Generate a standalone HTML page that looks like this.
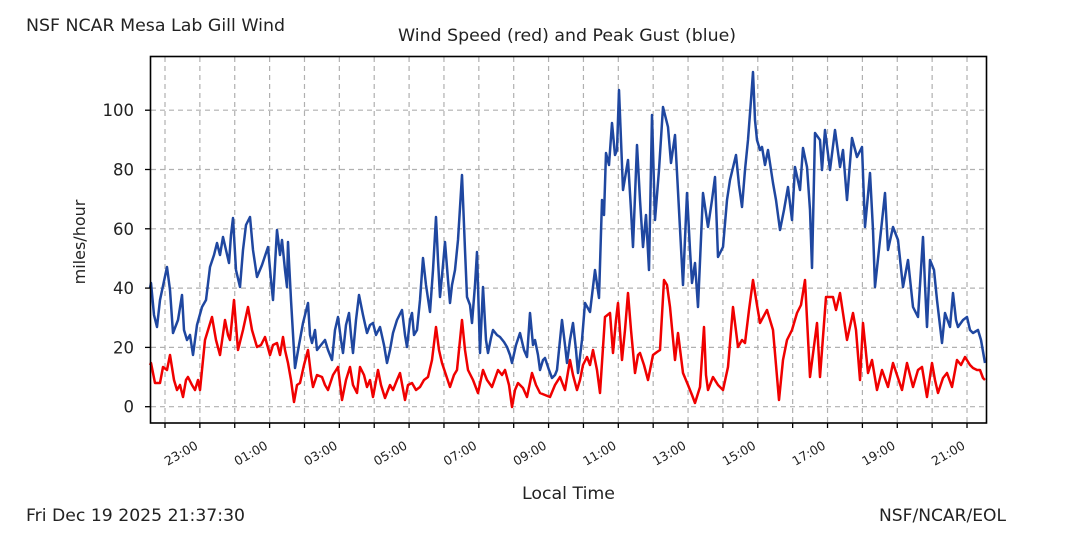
<!DOCTYPE html>
<html><head><meta charset="utf-8"><style>
html,body{margin:0;padding:0;background:#fff;}
svg{display:block;font-family:"DejaVu Sans","Liberation Sans",sans-serif;}
</style></head><body>
<svg width="1080" height="536" viewBox="0 0 1080 536" xmlns="http://www.w3.org/2000/svg">
<rect width="1080" height="536" fill="#fff"/>
<text x="26" y="31" font-size="17" fill="#222" textLength="259" lengthAdjust="spacingAndGlyphs">NSF NCAR Mesa Lab Gill Wind</text>
<text x="398" y="41" font-size="17" fill="#222" textLength="338" lengthAdjust="spacingAndGlyphs">Wind Speed (red) and Peak Gust (blue)</text>
<g id="grid" stroke="#b0b0b0" stroke-width="1.2" stroke-dasharray="5,4"></g>
<polyline id="blue" fill="none" stroke="#1f47a0" stroke-width="2.5" stroke-linejoin="round"/>
<polyline id="red" fill="none" stroke="#f00000" stroke-width="2.5" stroke-linejoin="round"/>
<rect x="150.5" y="56.5" width="836" height="366.5" fill="none" stroke="#000" stroke-width="1.6"/>
<g id="ticks" stroke="#000" stroke-width="1.3"></g>
<g id="labels" font-size="16.5" fill="#222"></g>
<text transform="translate(85,242) rotate(-90)" font-size="16" fill="#222" text-anchor="middle">miles/hour</text>
<text x="522" y="499" font-size="17" fill="#222" textLength="93" lengthAdjust="spacingAndGlyphs">Local Time</text>
<text x="26" y="521" font-size="17" fill="#222" textLength="219" lengthAdjust="spacingAndGlyphs">Fri Dec 19 2025 21:37:30</text>
<text x="879" y="521" font-size="17" fill="#222" textLength="127" lengthAdjust="spacingAndGlyphs">NSF/NCAR/EOL</text>
</svg>
<script>
var ns="http://www.w3.org/2000/svg";
function el(p,t,a,txt){var e=document.createElementNS(ns,t);for(var k in a)e.setAttribute(k,a[k]);if(txt)e.textContent=txt;document.getElementById(p).appendChild(e);}
var y0=406.7,dy=2.965;
for(var v=0;v<=100;v+=20){var y=y0-v*dy;el("grid","line",{x1:151,x2:986,y1:y,y2:y});el("ticks","line",{x1:145,x2:150,y1:y,y2:y});el("labels","text",{x:134,y:y+6,"text-anchor":"end"},String(v));}
var hrs=["22","23","00","01","02","03","04","05","06","07","08","09","10","11","12","13","14","15","16","17","18","19","20","21"];
for(var k=0;k<24;k++){var x=165+k*34.87;el("grid","line",{x1:x,x2:x,y1:57,y2:423});el("ticks","line",{x1:x,x2:x,y1:423,y2:428});
 if(k%2==1){el("labels","text",{transform:"translate("+(x-1)+",448) rotate(-30)","text-anchor":"end","font-size":"12.5"},hrs[k]+":00");}}
var B=[[150,288],[151,283],[154,315],[157,327],[160,300],[167,267],[170,290],[173,333],[178,320],[182,295],[184,330],[187,340],[190,335],[193,355],[197,325],[202,307],[206,300],[210,267],[214,255],[217,243],[220,255],[223,237],[226,250],[229,263],[231,235],[233,218],[236,270],[240,287],[243,250],[246,225],[250,217],[253,250],[257,277],[262,265],[268,247],[271,280],[273,300],[277,230],[280,255],[282,240],[285,270],[287,287],[288,242],[291,300],[295,368],[299,345],[303,323],[308,303],[310,335],[312,343],[315,330],[317,350],[321,345],[325,340],[328,350],[332,360],[335,330],[338,317],[341,340],[343,353],[346,325],[349,313],[351,335],[353,353],[356,320],[359,295],[363,315],[367,333],[370,325],[373,323],[376,335],[380,327],[384,345],[387,363],[390,350],[393,333],[397,320],[402,310],[405,335],[407,347],[410,320],[412,313],[414,335],[417,330],[420,300],[423,258],[426,285],[430,312],[433,270],[436,217],[438,260],[440,297],[443,265],[445,242],[448,280],[450,303],[452,285],[455,270],[458,240],[462,175],[465,250],[467,297],[470,305],[472,323],[475,285],[477,252],[480,353],[483,287],[486,340],[488,353],[491,338],[493,330],[497,335],[500,337],[504,342],[507,347],[510,355],[512,363],[516,345],[520,333],[524,350],[527,357],[530,313],[533,345],[535,340],[538,355],[540,370],[543,360],[545,358],[549,370],[552,378],[555,375],[557,370],[560,340],[562,320],[565,345],[567,363],[570,340],[573,323],[576,350],[578,373],[582,340],[585,303],[590,312],[595,270],[599,298],[602,200],[604,215],[606,153],[609,165],[612,123],[615,155],[617,150],[619,90],[621,140],[623,190],[628,160],[631,210],[633,247],[637,145],[640,200],[643,247],[646,215],[649,270],[652,115],[655,220],[659,170],[663,107],[668,127],[671,163],[675,135],[679,210],[683,285],[687,193],[690,250],[692,283],[695,263],[698,307],[703,193],[708,227],[712,200],[715,177],[718,257],[723,247],[727,200],[730,180],[736,155],[739,185],[742,207],[745,170],[748,140],[751,100],[753,72],[755,120],[757,140],[760,150],[762,147],[765,165],[768,150],[773,183],[776,200],[780,230],[784,210],[788,187],[792,220],[795,167],[800,190],[803,148],[807,167],[810,210],[812,268],[815,133],[820,140],[822,170],[825,130],[830,170],[835,130],[840,167],[843,150],[847,200],[852,138],[857,157],[862,147],[865,227],[868,195],[870,173],[873,230],[875,287],[880,240],[885,193],[888,250],[893,227],[898,240],[903,287],[908,260],[913,307],[918,317],[923,237],[925,285],[927,327],[930,260],[934,270],[937,300],[942,343],[945,313],[950,327],[953,293],[956,320],[958,327],[963,320],[967,317],[970,330],[973,333],[978,330],[981,340],[985,363]];
var R=[[150,365],[151,363],[155,383],[160,383],[163,367],[167,370],[170,355],[174,380],[177,390],[180,385],[183,397],[186,380],[188,377],[192,385],[195,390],[198,380],[200,390],[205,340],[212,317],[216,340],[220,355],[225,320],[228,335],[230,340],[234,300],[238,350],[243,330],[248,307],[252,330],[257,347],[261,345],[265,337],[270,355],[273,345],[277,343],[280,355],[283,337],[285,350],[288,363],[291,380],[294,402],[297,385],[300,383],[304,365],[308,350],[311,375],[313,387],[317,375],[322,377],[325,385],[328,390],[333,375],[338,367],[342,400],[346,380],[350,367],[353,385],[357,393],[360,367],[364,375],[367,387],[370,380],[373,397],[378,370],[381,385],[385,398],[390,385],[393,390],[397,380],[400,373],[405,400],[408,385],[412,383],[416,390],[420,387],[424,380],[428,377],[432,360],[436,327],[439,350],[442,363],[446,375],[450,387],[454,375],[457,370],[462,320],[465,350],[468,370],[473,380],[478,393],[483,370],[487,380],[492,387],[498,370],[502,375],[505,370],[509,385],[512,407],[515,390],[518,383],[523,388],[527,397],[532,373],[536,385],[540,393],[545,395],[550,397],[555,385],[560,377],[565,390],[570,360],[573,375],[577,390],[580,380],[583,365],[587,357],[590,365],[593,350],[597,370],[600,393],[605,317],[610,313],[613,353],[616,320],[618,303],[622,360],[625,330],[628,293],[631,330],[635,373],[638,355],[640,353],[644,365],[648,380],[653,355],[657,352],[660,350],[664,280],[667,285],[670,307],[675,360],[678,333],[683,373],[688,385],[692,395],[695,403],[700,387],[704,327],[706,375],[708,390],[713,377],[718,385],[723,390],[728,367],[733,307],[738,347],[742,340],[745,343],[749,310],[753,280],[757,305],[760,323],[767,310],[773,330],[776,365],[779,400],[783,360],[787,340],[792,330],[797,313],[801,305],[805,280],[810,377],[817,323],[820,377],[826,297],[833,297],[836,310],[840,293],[847,340],[853,313],[856,330],[860,380],[863,323],[868,373],[872,360],[877,390],[882,370],[888,387],[893,363],[897,375],[902,390],[907,363],[913,387],[918,370],[922,367],[927,397],[932,363],[935,380],[938,393],[943,378],[947,373],[952,387],[957,360],[961,365],[965,357],[970,365],[973,368],[977,370],[980,370],[983,378],[985,380]];
function pts(a){return a.map(function(p){return p[0]+","+p[1]}).join(" ");}
document.getElementById("blue").setAttribute("points",pts(B));
document.getElementById("red").setAttribute("points",pts(R));
</script>
</body></html>
